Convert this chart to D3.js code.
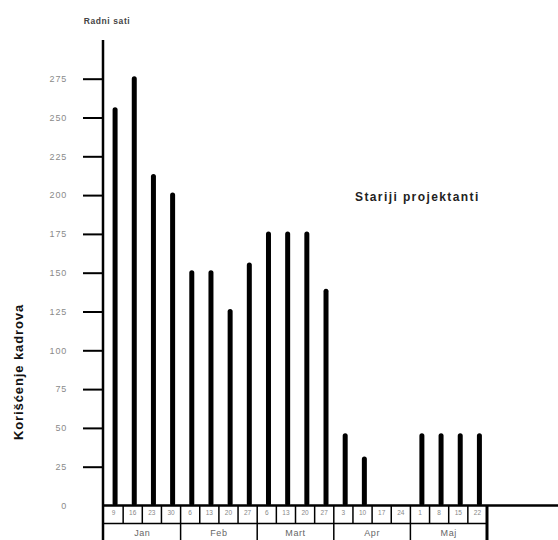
<!DOCTYPE html>
<html><head><meta charset="utf-8">
<script src="https://cdn.jsdelivr.net/npm/d3@7"></script>
<style>body{margin:0;background:#fff}svg{display:block}</style>
</head><body>
<svg id="c" width="558" height="540"></svg>
<script>
const months = ["Jan","Feb","Mart","Apr","Maj"];
const days = ["9","16","23","30","6","13","20","27","6","13","20","27","3","10","17","24","1","8","15","22"];
const monthOf = [0,0,0,0,1,1,1,1,2,2,2,2,3,3,3,3,4,4,4,4];
const hours = [255,275,212,200,150,150,125,155,175,175,175,138,45,30,null,null,45,45,45,45];
const yTicks = [0,25,50,75,100,125,150,175,200,225,250,275];
const seriesName = "Stariji projektanti";
const yTitle = "Korišćenje kadrova";
const unitTitle = "Radni sati";

const svg = d3.select("#c");
const font = "'Liberation Sans', Arial, sans-serif";
const idx = d3.range(days.length);

const y = d3.scaleLinear().domain([0,275]).range([505.5,78.7]);
const xBox = d3.scaleBand().domain(idx).range([104,487]).padding(0);
const xBar = d3.scaleBand().domain(idx).range([105.5,489]).padding(0);

// bars (round cap overshoots value slightly, as in reference)
svg.append("g").selectAll("line").data(idx.filter(i=>hours[i]!=null)).join("line")
  .attr("x1", i=>xBar(i)+xBar.bandwidth()/2).attr("x2", i=>xBar(i)+xBar.bandwidth()/2)
  .attr("y1", i=>y(hours[i])).attr("y2", y(0)-2)
  .attr("stroke","#000").attr("stroke-width",5).attr("stroke-linecap","round");

// y axis
const yAxis = d3.axisLeft(y).tickValues(yTicks).tickSize(20).tickPadding(16);
const gy = svg.append("g").attr("transform","translate(103,0)").call(yAxis);
gy.select(".domain").remove();
gy.selectAll(".tick line").attr("stroke","#000").attr("stroke-width",2);
gy.selectAll(".tick text").attr("font-family",font).attr("font-size",9).attr("fill","#8a8a8a")
  .attr("letter-spacing","0.8px");
gy.selectAll(".tick").filter(d=>d===0).select("line").remove();

// main vertical axis line
svg.append("line").attr("x1",103).attr("x2",103).attr("y1",40).attr("y2",540)
  .attr("stroke","#000").attr("stroke-width",2.5);
// horizontal baseline
svg.append("line").attr("x1",103).attr("x2",558).attr("y1",y(0)).attr("y2",y(0))
  .attr("stroke","#000").attr("stroke-width",2.5);

// day boxes row
const rowTop = y(0), rowMid = 523.5, rowBot = 540;
svg.append("line").attr("x1",103).attr("x2",487).attr("y1",rowMid).attr("y2",rowMid)
  .attr("stroke","#000").attr("stroke-width",1.5);
svg.append("g").selectAll("line").data(idx.slice(1)).join("line")
  .attr("x1",i=>xBox(i)).attr("x2",i=>xBox(i))
  .attr("y1",rowTop).attr("y2",i=> monthOf[i]!==monthOf[i-1] ? rowBot : rowMid)
  .attr("stroke","#000").attr("stroke-width",1.5);
svg.append("line").attr("x1",xBox.range()[1]).attr("x2",xBox.range()[1]).attr("y1",rowTop).attr("y2",rowBot)
  .attr("stroke","#000").attr("stroke-width",3);

svg.append("g").selectAll("text").data(idx).join("text")
  .attr("x",i=>xBox(i)+xBox.bandwidth()/2).attr("y",515)
  .attr("text-anchor","middle").attr("font-family",font).attr("font-size",6.5)
  .attr("fill","#888").text(i=>days[i]);

svg.append("g").selectAll("text").data(months).join("text")
  .attr("x",(m,k)=>{const cols=idx.filter(i=>monthOf[i]===k);return (xBox(cols[0])+xBox(cols[cols.length-1])+xBox.bandwidth())/2;})
  .attr("y",536).attr("text-anchor","middle").attr("font-family",font).attr("font-size",9)
  .attr("fill","#666").attr("letter-spacing","0.6px").text(m=>m);

// titles
svg.append("text").attr("x",107).attr("y",24).attr("text-anchor","middle")
  .attr("font-family",font).attr("font-size",8.5).attr("font-weight","bold").attr("fill","#444")
  .attr("letter-spacing","0.6px").text(unitTitle);

svg.append("text").attr("x",355).attr("y",201)
  .attr("font-family",font).attr("font-size",12).attr("font-weight","bold").attr("fill","#222")
  .attr("letter-spacing","1.4px").text(seriesName);

svg.append("text").attr("transform","translate(23,372) rotate(-90)").attr("text-anchor","middle")
  .attr("font-family",font).attr("font-size",13).attr("font-weight","bold").attr("fill","#111")
  .attr("letter-spacing","0.9px").text(yTitle);
</script>
</body></html>
